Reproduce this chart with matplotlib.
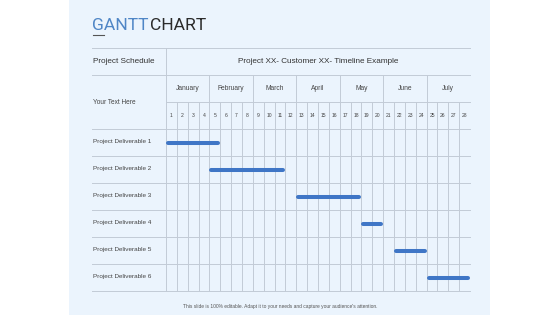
import matplotlib
matplotlib.use("Agg")
import matplotlib.pyplot as plt
from matplotlib.patches import Rectangle

# chart content
title_first = "GANTT"
title_second = "CHART"
header_left = "Project Schedule"
header_right = "Project XX- Customer XX- Timeline Example"
sub_label = "Your Text Here"
months = ["January", "February", "March", "April", "May", "June", "July"]
week_labels = [str(i) for i in range(1, 29)]
deliverables = [
    "Project Deliverable 1",
    "Project Deliverable 2",
    "Project Deliverable 3",
    "Project Deliverable 4",
    "Project Deliverable 5",
    "Project Deliverable 6",
]
start_week = [0, 4, 12, 18, 21, 24]
end_week = [5, 11, 18, 20, 24, 28]
footer = "This slide is 100% editable. Adapt it to your needs and capture your audience's attention."

# layout in pixels (560 x 315 canvas)
W, H = 560, 315
X0, Y0 = 166, 48          # grid origin
WEEK_W = 304 / 28         # pixels per week
ROW_H = 27                # pixels per row
LEFT = 92                 # table left edge

PANEL = "#EBF4FD"
LINE = "#C2CBD6"
BAR = "#3F76C6"
TEXT = "#333333"
FONT = ["Liberation Sans", "DejaVu Sans"]
TITLE_FONT = ["Liberation Sans Narrow", "Roboto"]


def px(x):
    return (x - X0) / WEEK_W


def py(y):
    return (y - Y0) / ROW_H


fig = plt.figure(figsize=(W / 100, H / 100), dpi=100)
fig.patch.set_facecolor("white")
ax = fig.add_axes([0, 0, 1, 1])
ax.set_xlim(px(0), px(W))
ax.set_ylim(py(H), py(0))
ax.axis("off")

# light blue slide panel
ax.add_patch(Rectangle((69 / W, 0), (490 - 69) / W, 1, transform=ax.transAxes,
                       facecolor=PANEL, edgecolor="none", zorder=0))

# title
ax.text(px(92), py(30), title_first, color="#4F86C6", fontsize=12.6,
        family=TITLE_FONT, va="baseline", ha="left")
ax.text(px(150), py(30), title_second, color="#2B2B2B", fontsize=12.6,
        family=TITLE_FONT, va="baseline", ha="left")
ax.plot([px(93), px(104)], [py(34.5), py(34.5)], color="#555555", lw=0.8)

n_weeks = len(week_labels)
n_rows = 3 + len(deliverables)

# horizontal grid lines (the month/week divider stays inside the grid)
for r in range(n_rows + 1):
    x_start = 0 if r == 2 else px(LEFT)
    ax.plot([x_start, n_weeks], [r, r], color=LINE, lw=0.7, zorder=1)

# vertical grid lines
ax.plot([0, 0], [0, n_rows], color=LINE, lw=0.7, zorder=1)
for k in range(1, n_weeks):
    top = 1 if k % 4 == 0 else 2
    ax.plot([k, k], [top, n_rows], color=LINE, lw=0.7, zorder=1)

# header texts
ax.text(px(93), 0.5, header_left, fontsize=5.9, color=TEXT, family=FONT,
        ha="left", va="center")
ax.text(n_weeks / 2, 0.5, header_right, fontsize=5.9, color=TEXT, family=FONT,
        ha="center", va="center")
ax.text(px(93), 2.0, sub_label, fontsize=4.7, color="#444444", family=FONT,
        ha="left", va="center")

for i, m in enumerate(months):
    ax.text(4 * i + 2, 1.5, m, fontsize=4.8, color="#444444", family=FONT,
            ha="center", va="center")
for j, wl in enumerate(week_labels):
    ax.text(j + 0.5, 2.5, wl, fontsize=3.6, color="#444444", family=FONT,
            ha="center", va="center")

# deliverables and bars
cap = 2 / WEEK_W  # half of the bar thickness, for round caps
for i, (name, s, e) in enumerate(zip(deliverables, start_week, end_week)):
    y = 3 + i + 0.5
    ax.text(px(93), y - 0.03, name, fontsize=4.6, color="#444444", family=FONT,
            ha="left", va="center")
    ax.plot([s + cap, e - cap], [y, y], color=BAR, lw=2.9,
            solid_capstyle="round", zorder=3)

# footer
ax.text(px(280), py(306.5), footer, fontsize=3.5, color="#555555", family=FONT,
        ha="center", va="center")

fig.savefig("out.png", dpi=100, facecolor=fig.get_facecolor())
